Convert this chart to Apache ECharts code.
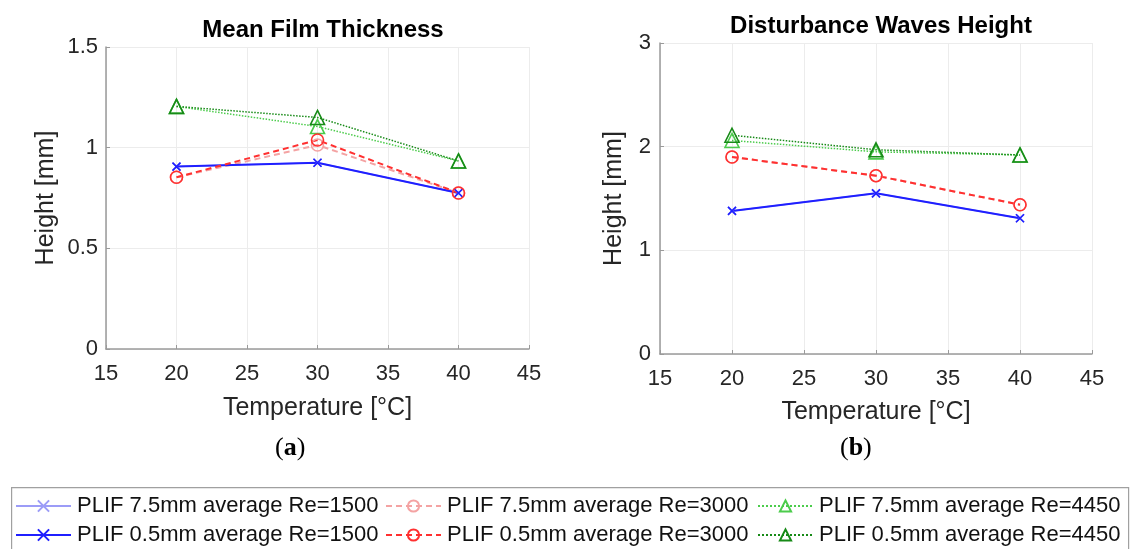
<!DOCTYPE html>
<html>
<head>
<meta charset="utf-8">
<script src="https://cdn.jsdelivr.net/npm/echarts@6/dist/echarts.min.js"></script>
<style>
  html, body { margin: 0; padding: 0; background: #fff; }
  #chart { width: 1133px; height: 549px; }
</style>
</head>
<body>
<div id="chart"></div>
<script>
// temperatures [°C]
var temps = [20, 30, 40];

// (a) mean film thickness [mm]
var film1500_75 = [0.906, 0.925, 0.775];
var film1500_05 = [0.906, 0.925, 0.775];
var film3000_75 = [0.853, 1.013, 0.775];
var film3000_05 = [0.853, 1.038, 0.775];
var film4450_75 = [1.205, 1.105, 0.934];
var film4450_05 = [1.205, 1.150, 0.934];

// (b) disturbance waves height [mm]
var wave1500_75 = [1.38, 1.55, 1.31];
var wave1500_05 = [1.38, 1.55, 1.31];
var wave3000_75 = [1.90, 1.72, 1.44];
var wave3000_05 = [1.90, 1.72, 1.44];
var wave4450_75 = [2.06, 1.95, 1.92];
var wave4450_05 = [2.11, 1.97, 1.92];

var names = [
  'PLIF 7.5mm average Re=1500',
  'PLIF 7.5mm average Re=3000',
  'PLIF 7.5mm average Re=4450',
  'PLIF 0.5mm average Re=1500',
  'PLIF 0.5mm average Re=3000',
  'PLIF 0.5mm average Re=4450'
];

var FONT = '"Liberation Sans", Arial, sans-serif';
var SERIF = '"Liberation Serif", serif';
var xMark = 'path://M0,0L10,10M10,0L0,10';

// style per legend entry (same order as names)
var styles = [
  {color: '#9c9cf7', symbol: xMark, size: 8, line: 'solid', width: 1.5},
  {color: '#f4a3a3', symbol: 'circle', size: 12, line: [6, 4], width: 2},
  {color: '#4ccc4c', symbol: 'triangle', size: 14, line: 'dotted', width: 1.5},
  {color: '#1f1fff', symbol: xMark, size: 8, line: 'solid', width: 2},
  {color: '#ff3030', symbol: 'circle', size: 12, line: [6, 4], width: 2},
  {color: '#178a17', symbol: 'triangle', size: 14, line: 'dotted', width: 1.5}
];

var filmSets = [film1500_75, film3000_75, film4450_75, film1500_05, film3000_05, film4450_05];
var waveSets = [wave1500_75, wave3000_75, wave4450_75, wave1500_05, wave3000_05, wave4450_05];

function pairs(vals) {
  return temps.map(function (t, i) { return [t, vals[i]]; });
}

function makeSeries(sets, idx) {
  return sets.map(function (vals, i) {
    var s = styles[i];
    return {
      name: names[i],
      type: 'line',
      xAxisIndex: idx,
      yAxisIndex: idx,
      data: pairs(vals),
      symbol: s.symbol,
      symbolSize: s.size,
      showAllSymbol: true,
      animation: false,
      lineStyle: {color: s.color, width: s.width, type: s.line},
      itemStyle: {color: 'rgba(0,0,0,0)', borderColor: s.color, borderWidth: 1.6}
    };
  });
}

function xAxisOf(idx, gap) {
  return {
    type: 'value', gridIndex: idx, min: 15, max: 45, interval: 5,
    name: 'Temperature [°C]', nameLocation: 'middle', nameGap: gap,
    nameTextStyle: {fontFamily: FONT, fontSize: 25, color: '#262626'},
    axisLine: {onZero: false, lineStyle: {color: '#9a9a9a', width: 1.5}},
    axisTick: {show: true, inside: true, length: 4, lineStyle: {color: '#9a9a9a'}},
    axisLabel: {fontFamily: FONT, fontSize: 22, color: '#262626', margin: 14},
    splitLine: {show: true, lineStyle: {color: '#ececec', width: 1}}
  };
}

function yAxisOf(idx, max, step, gap, margin) {
  return {
    type: 'value', gridIndex: idx, min: 0, max: max, interval: step,
    name: 'Height [mm]', nameLocation: 'middle', nameGap: gap,
    nameTextStyle: {fontFamily: FONT, fontSize: 25, color: '#262626'},
    axisLine: {show: true, lineStyle: {color: '#9a9a9a', width: 1.5}},
    axisTick: {show: true, inside: true, length: 4, lineStyle: {color: '#9a9a9a'}},
    axisLabel: {fontFamily: FONT, fontSize: 22, color: '#262626', margin: margin},
    splitLine: {show: true, lineStyle: {color: '#ececec', width: 1}}
  };
}

// one legend per entry so the columns line up like the original
var legendPos = [[15, 495], [385, 495], [757, 495], [15, 524], [385, 524], [757, 524]];
var legends = names.map(function (n, i) {
  return {
    data: [n], left: legendPos[i][0], top: legendPos[i][1],
    itemWidth: 55, itemHeight: 14, itemGap: 0, padding: 0,
    textStyle: {fontFamily: FONT, fontSize: 22, color: '#111', padding: [0, 0, 0, 1]},
    selectedMode: false
  };
});

var chart = echarts.init(document.getElementById('chart'));
var option = {
  backgroundColor: '#fff',
  animation: false,
  title: [
    {text: 'Mean Film Thickness', left: 318, top: 13, textAlign: 'center',
     textStyle: {fontFamily: FONT, fontSize: 24, fontWeight: 'bold', color: '#000'}},
    {text: 'Disturbance Waves Height', left: 876, top: 9, textAlign: 'center',
     textStyle: {fontFamily: FONT, fontSize: 24, fontWeight: 'bold', color: '#000'}}
  ],
  grid: [
    {left: 106, top: 47, width: 423, height: 302},
    {left: 660, top: 43, width: 432, height: 311}
  ],
  xAxis: [xAxisOf(0, 47), xAxisOf(1, 46)],
  yAxis: [yAxisOf(0, 1.5, 0.5, 47, 8), yAxisOf(1, 3, 1, 33, 9)],
  legend: legends,
  series: makeSeries(filmSets, 0).concat(makeSeries(waveSets, 1)),
  graphic: [
    {type: 'rect', left: 11, top: 487, z: -1,
     shape: {width: 1117, height: 80},
     style: {fill: '#fff', stroke: '#a0a0a0', lineWidth: 1.2}},
    {type: 'text', left: 275, top: 435,
     style: {text: '{n|(}{b|a}{n|)}', rich: {
       n: {fontFamily: SERIF, fontSize: 26, fill: '#000'},
       b: {fontFamily: SERIF, fontSize: 26, fontWeight: 'bold', fill: '#000'}
     }}},
    {type: 'text', left: 840, top: 435,
     style: {text: '{n|(}{b|b}{n|)}', rich: {
       n: {fontFamily: SERIF, fontSize: 26, fill: '#000'},
       b: {fontFamily: SERIF, fontSize: 26, fontWeight: 'bold', fill: '#000'}
     }}}
  ]
};
chart.setOption(option);
</script>
</body>
</html>
